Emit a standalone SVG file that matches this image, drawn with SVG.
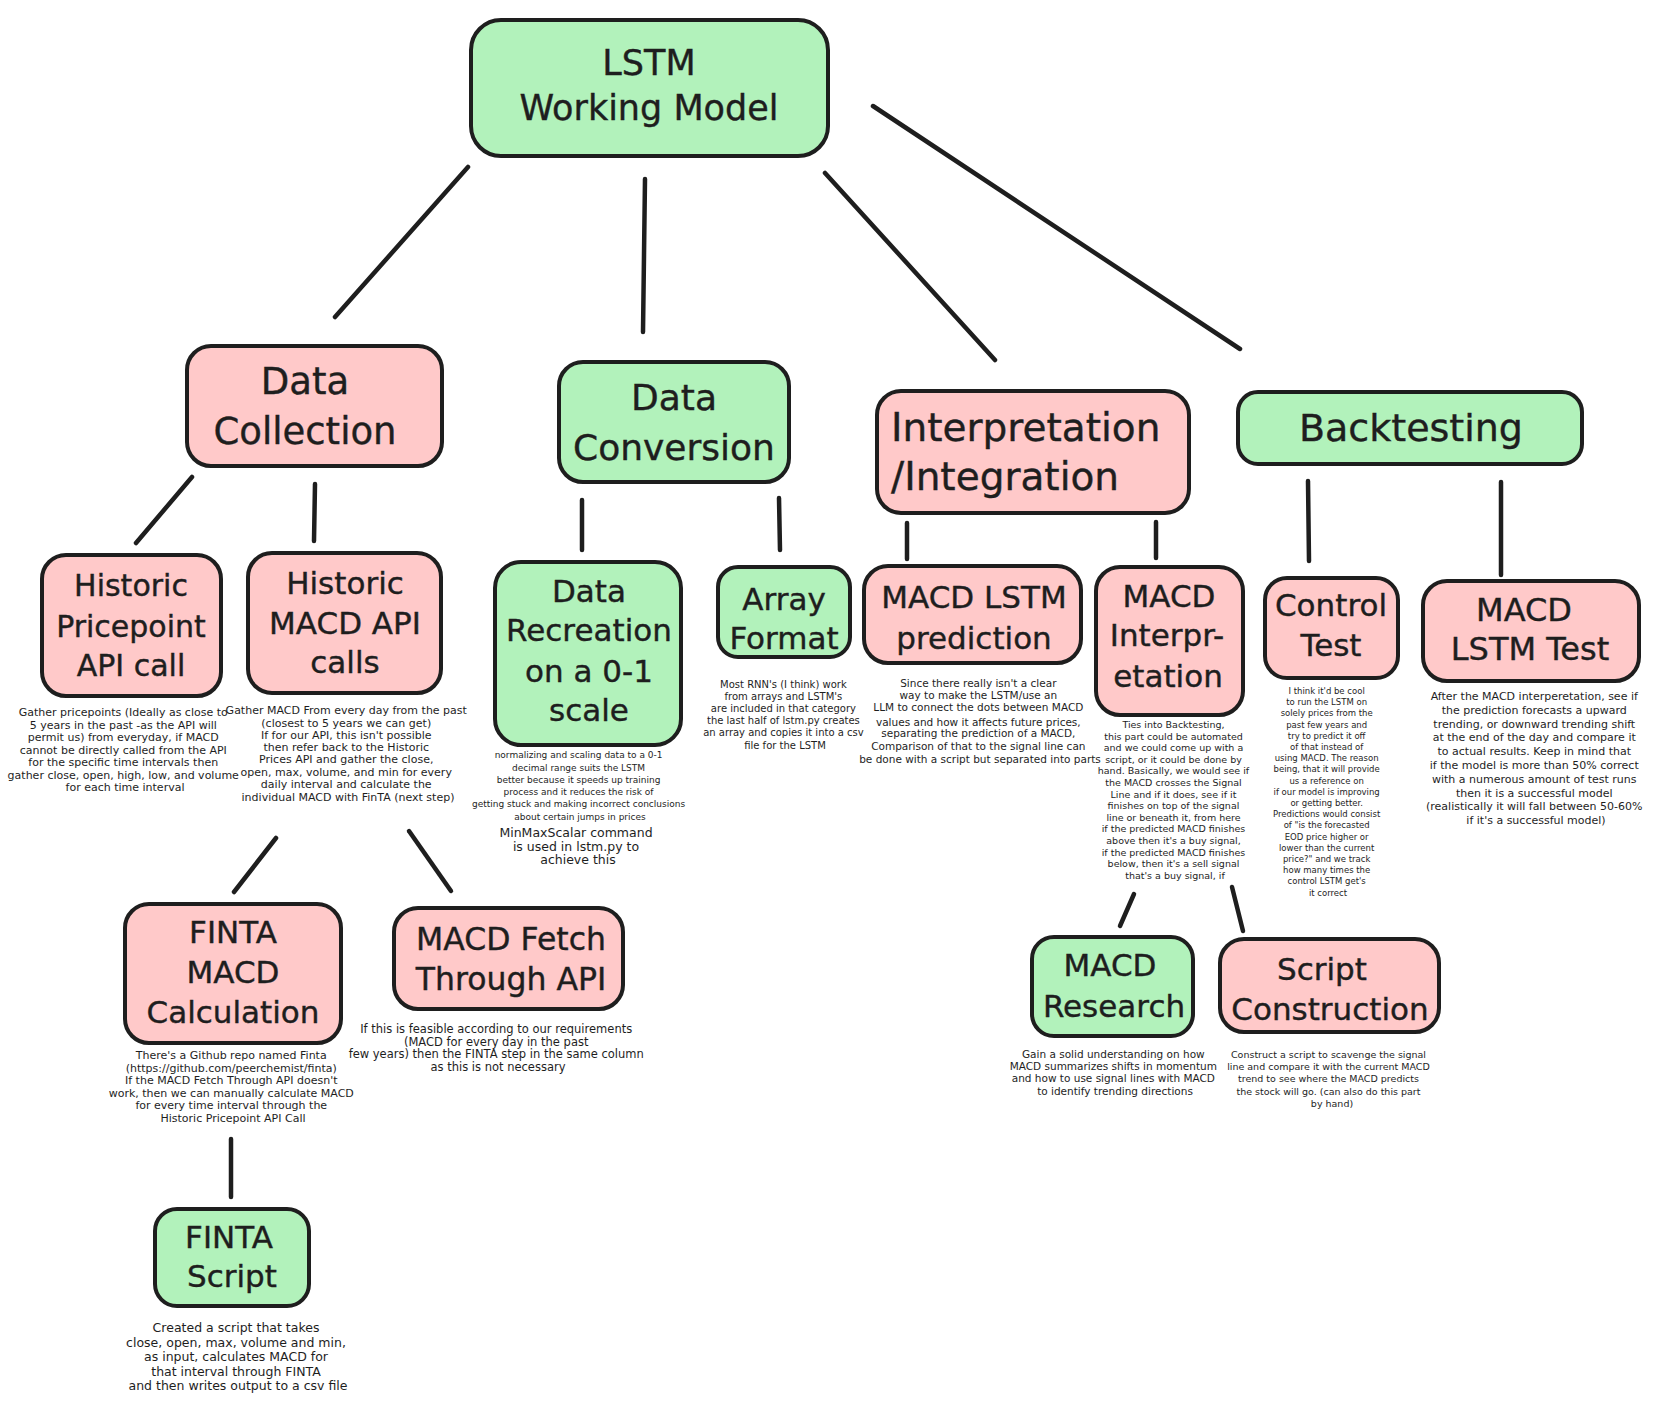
<svg xmlns="http://www.w3.org/2000/svg" width="1669" height="1420" viewBox="0 0 1669 1420">
  <style>
    .box { stroke: #1e1e1e; stroke-width: 4; stroke-linejoin: round; }
    .green { fill: #b2f2bb; }
    .pink { fill: #ffc9c9; }
    .title { font-family: "DejaVu Sans", "Liberation Sans", sans-serif; fill: #1e1e1e; text-anchor: middle; stroke: #1e1e1e; stroke-width: 0.4; }
    .note { font-family: "DejaVu Sans", "Liberation Sans", sans-serif; fill: #1e1e1e; text-anchor: middle; }
    .link { stroke: #1e1e1e; stroke-width: 4.5; stroke-linecap: round; fill: none; }
  </style>
  <rect width="1669" height="1420" fill="#ffffff"/>

  <!-- connectors -->
  <g id="connectors">
    <line class="link" x1="468" y1="167" x2="335" y2="317"/>
    <line class="link" x1="645" y1="179" x2="643" y2="332"/>
    <line class="link" x1="825" y1="173" x2="995" y2="360"/>
    <line class="link" x1="873" y1="106" x2="1240" y2="349"/>
    <line class="link" x1="192" y1="477" x2="136" y2="543"/>
    <line class="link" x1="315" y1="484" x2="314" y2="541"/>
    <line class="link" x1="582" y1="500" x2="582" y2="550"/>
    <line class="link" x1="779" y1="498" x2="780" y2="550"/>
    <line class="link" x1="907" y1="523" x2="907" y2="559"/>
    <line class="link" x1="1156" y1="522" x2="1156" y2="558"/>
    <line class="link" x1="1308" y1="481" x2="1309" y2="561"/>
    <line class="link" x1="1501" y1="482" x2="1501" y2="575"/>
    <line class="link" x1="276" y1="838" x2="234" y2="892"/>
    <line class="link" x1="409" y1="831" x2="451" y2="891"/>
    <line class="link" x1="1134" y1="894" x2="1120" y2="926"/>
    <line class="link" x1="1232" y1="887" x2="1243" y2="931"/>
    <line class="link" x1="231" y1="1139" x2="231" y2="1197"/>
  </g>

  <!-- root -->
  <g id="lstm-working-model">
    <rect class="box green" x="471" y="20" width="357" height="136" rx="30"/>
    <text class="title" font-size="35"><tspan x="649" y="75">LSTM</tspan><tspan x="649" y="120">Working Model</tspan></text>
  </g>

  <!-- first level -->
  <g id="data-collection">
    <rect class="box pink" x="187" y="346" width="255" height="120" rx="24"/>
    <text class="title" font-size="37"><tspan x="305" y="394">Data</tspan><tspan x="305" y="444">Collection</tspan></text>
  </g>
  <g id="data-conversion">
    <rect class="box green" x="559" y="362" width="230" height="120" rx="24"/>
    <text class="title" font-size="36"><tspan x="674" y="410">Data</tspan><tspan x="674" y="460">Conversion</tspan></text>
  </g>
  <g id="interpretation-integration">
    <rect class="box pink" x="877" y="391" width="312" height="122" rx="24"/>
    <text class="title" font-size="39" style="text-anchor:start"><tspan x="891" y="441">Interpretation</tspan><tspan x="891" y="490">/Integration</tspan></text>
  </g>
  <g id="backtesting">
    <rect class="box green" x="1238" y="392" width="344" height="72" rx="20"/>
    <text class="title" font-size="38"><tspan x="1411" y="441">Backtesting</tspan></text>
  </g>

  <!-- data collection branch -->
  <g id="historic-pricepoint">
    <rect class="box pink" x="42" y="555" width="179" height="141" rx="24"/>
    <text class="title" font-size="30"><tspan x="131" y="596">Historic</tspan><tspan x="131" y="637">Pricepoint</tspan><tspan x="131" y="676">API call</tspan></text>
    <text class="note" font-size="11">
      <tspan x="125" y="716">Gather pricepoints (Ideally as close to</tspan>
      <tspan x="125" y="728.5">5 years in the past -as the API will</tspan>
      <tspan x="125" y="741">permit us) from everyday, if MACD</tspan>
      <tspan x="125" y="753.5">cannot be directly called from the API</tspan>
      <tspan x="125" y="766">for the specific time intervals then</tspan>
      <tspan x="125" y="778.5">gather close, open, high, low, and volume</tspan>
      <tspan x="125" y="791">for each time interval</tspan>
    </text>
  </g>
  <g id="historic-macd">
    <rect class="box pink" x="248" y="553" width="193" height="140" rx="24"/>
    <text class="title" font-size="31"><tspan x="345" y="594">Historic</tspan><tspan x="345" y="634">MACD API</tspan><tspan x="345" y="673">calls</tspan></text>
    <text class="note" font-size="11">
      <tspan x="348" y="714">Gather MACD From every day from the past</tspan>
      <tspan x="348" y="726.5">(closest to 5 years we can get)</tspan>
      <tspan x="348" y="739">If for our API, this isn't possible</tspan>
      <tspan x="348" y="751">then refer back to the Historic</tspan>
      <tspan x="348" y="763">Prices API and gather the close,</tspan>
      <tspan x="348" y="775.5">open, max, volume, and min for every</tspan>
      <tspan x="348" y="788">daily interval and calculate the</tspan>
      <tspan x="348" y="800.5">individual MACD with FinTA (next step)</tspan>
    </text>
  </g>
  <g id="finta-macd-calculation">
    <rect class="box pink" x="125" y="904" width="216" height="139" rx="24"/>
    <text class="title" font-size="31"><tspan x="233" y="943">FINTA</tspan><tspan x="233" y="983">MACD</tspan><tspan x="233" y="1023">Calculation</tspan></text>
    <text class="note" font-size="11">
      <tspan x="233" y="1059">There's a Github repo named Finta</tspan>
      <tspan x="233" y="1071.5">(https://github.com/peerchemist/finta)</tspan>
      <tspan x="233" y="1084">If the MACD Fetch Through API doesn't</tspan>
      <tspan x="233" y="1096.5">work, then we can manually calculate MACD</tspan>
      <tspan x="233" y="1109">for every time interval through the</tspan>
      <tspan x="233" y="1121.5">Historic Pricepoint API Call</tspan>
    </text>
  </g>
  <g id="macd-fetch">
    <rect class="box pink" x="394" y="908" width="229" height="101" rx="24"/>
    <text class="title" font-size="31.5"><tspan x="511" y="950">MACD Fetch</tspan><tspan x="511" y="990">Through API</tspan></text>
    <text class="note" font-size="11.5">
      <tspan x="498" y="1033">If this is feasible according to our requirements</tspan>
      <tspan x="498" y="1046">(MACD for every day in the past</tspan>
      <tspan x="498" y="1058">few years) then the FINTA step in the same column</tspan>
      <tspan x="498" y="1071">as this is not necessary</tspan>
    </text>
  </g>
  <g id="finta-script">
    <rect class="box green" x="155" y="1209" width="154" height="97" rx="22"/>
    <text class="title" font-size="31"><tspan x="229" y="1248">FINTA</tspan><tspan x="232" y="1287">Script</tspan></text>
    <text class="note" font-size="12.5">
      <tspan x="238" y="1332">Created a script that takes</tspan>
      <tspan x="238" y="1346.5">close, open, max, volume and min,</tspan>
      <tspan x="238" y="1361">as input, calculates MACD for</tspan>
      <tspan x="238" y="1375.5">that interval through FINTA</tspan>
      <tspan x="238" y="1390">and then writes output to a csv file</tspan>
    </text>
  </g>

  <!-- data conversion branch -->
  <g id="data-recreation">
    <rect class="box green" x="495" y="562" width="186" height="183" rx="26"/>
    <text class="title" font-size="31"><tspan x="589" y="602">Data</tspan><tspan x="589" y="641">Recreation</tspan><tspan x="589" y="682">on a 0-1</tspan><tspan x="589" y="721">scale</tspan></text>
    <text class="note" font-size="9">
      <tspan x="580" y="758">normalizing and scaling data to a 0-1</tspan>
      <tspan x="580" y="770.5">decimal range suits the LSTM</tspan>
      <tspan x="580" y="783">better because it speeds up training</tspan>
      <tspan x="580" y="795">process and it reduces the risk of</tspan>
      <tspan x="580" y="807">getting stuck and making incorrect conclusions</tspan>
      <tspan x="580" y="820">about certain jumps in prices</tspan>
    </text>
    <text class="note" font-size="12.5">
      <tspan x="578" y="837">MinMaxScalar command</tspan>
      <tspan x="578" y="851">is used in lstm.py to</tspan>
      <tspan x="578" y="864">achieve this</tspan>
    </text>
  </g>
  <g id="array-format">
    <rect class="box green" x="718" y="567" width="132" height="90" rx="20"/>
    <text class="title" font-size="31"><tspan x="784" y="610">Array</tspan><tspan x="784" y="649">Format</tspan></text>
    <text class="note" font-size="10">
      <tspan x="785" y="687.5">Most RNN's (I think) work</tspan>
      <tspan x="785" y="699.5">from arrays and LSTM's</tspan>
      <tspan x="785" y="711.5">are included in that category</tspan>
      <tspan x="785" y="724">the last half of lstm.py creates</tspan>
      <tspan x="785" y="736">an array and copies it into a csv</tspan>
      <tspan x="785" y="748.5">file for the LSTM</tspan>
    </text>
  </g>

  <!-- interpretation branch -->
  <g id="macd-lstm-prediction">
    <rect class="box pink" x="864" y="566" width="217" height="97" rx="24"/>
    <text class="title" font-size="31"><tspan x="974" y="608">MACD LSTM</tspan><tspan x="974" y="649">prediction</tspan></text>
    <text class="note" font-size="10.5">
      <tspan x="980" y="686.5">Since there really isn't a clear</tspan>
      <tspan x="980" y="699">way to make the LSTM/use an</tspan>
      <tspan x="980" y="711">LLM to connect the dots between MACD</tspan>
      <tspan x="980" y="725.5">values and how it affects future prices,</tspan>
      <tspan x="980" y="737">separating the prediction of a MACD,</tspan>
      <tspan x="980" y="750">Comparison of that to the signal line can</tspan>
      <tspan x="980" y="763">be done with a script but separated into parts</tspan>
    </text>
  </g>
  <g id="macd-interpretation">
    <rect class="box pink" x="1096" y="567" width="147" height="148" rx="24"/>
    <text class="title" font-size="31"><tspan x="1169" y="607">MACD</tspan><tspan x="1167" y="646">Interpr-</tspan><tspan x="1168" y="687">etation</tspan></text>
    <text class="note" font-size="9.5">
      <tspan x="1175" y="728">Ties into Backtesting,</tspan>
      <tspan x="1175" y="739.6">this part could be automated</tspan>
      <tspan x="1175" y="751.2">and we could come up with a</tspan>
      <tspan x="1175" y="762.8">script, or it could be done by</tspan>
      <tspan x="1175" y="774.4">hand. Basically, we would see if</tspan>
      <tspan x="1175" y="786">the MACD crosses the Signal</tspan>
      <tspan x="1175" y="797.6">Line and if it does, see if it</tspan>
      <tspan x="1175" y="809.2">finishes on top of the signal</tspan>
      <tspan x="1175" y="820.8">line or beneath it, from here</tspan>
      <tspan x="1175" y="832.4">if the predicted MACD finishes</tspan>
      <tspan x="1175" y="844">above then it's a buy signal,</tspan>
      <tspan x="1175" y="855.6">if the predicted MACD finishes</tspan>
      <tspan x="1175" y="867.2">below, then it's a sell signal</tspan>
      <tspan x="1175" y="878.8">that's a buy signal, if</tspan>
    </text>
  </g>
  <g id="macd-research">
    <rect class="box green" x="1032" y="937" width="161" height="99" rx="22"/>
    <text class="title" font-size="31"><tspan x="1110" y="976">MACD</tspan><tspan x="1114" y="1017">Research</tspan></text>
    <text class="note" font-size="10.5">
      <tspan x="1115" y="1058">Gain a solid understanding on how</tspan>
      <tspan x="1115" y="1070">MACD summarizes shifts in momentum</tspan>
      <tspan x="1115" y="1082">and how to use signal lines with MACD</tspan>
      <tspan x="1115" y="1095">to identify trending directions</tspan>
    </text>
  </g>
  <g id="script-construction">
    <rect class="box pink" x="1220" y="939" width="219" height="93" rx="24"/>
    <text class="title" font-size="31"><tspan x="1322" y="980">Script</tspan><tspan x="1330" y="1020">Construction</tspan></text>
    <text class="note" font-size="9.5">
      <tspan x="1330" y="1058">Construct a script to scavenge the signal</tspan>
      <tspan x="1330" y="1070">line and compare it with the current MACD</tspan>
      <tspan x="1330" y="1082">trend to see where the MACD predicts</tspan>
      <tspan x="1330" y="1095">the stock will go. (can also do this part</tspan>
      <tspan x="1332" y="1107">by hand)</tspan>
    </text>
  </g>

  <!-- backtesting branch -->
  <g id="control-test">
    <rect class="box pink" x="1265" y="578" width="133" height="100" rx="22"/>
    <text class="title" font-size="31"><tspan x="1331" y="616">Control</tspan><tspan x="1331" y="656">Test</tspan></text>
    <text class="note" font-size="8.5">
      <tspan x="1328" y="694">I think it'd be cool</tspan>
      <tspan x="1328" y="705.2">to run the LSTM on</tspan>
      <tspan x="1328" y="716.4">solely prices from the</tspan>
      <tspan x="1328" y="727.6">past few years and</tspan>
      <tspan x="1328" y="738.8">try to predict it off</tspan>
      <tspan x="1328" y="750">of that instead of</tspan>
      <tspan x="1328" y="761.2">using MACD. The reason</tspan>
      <tspan x="1328" y="772.4">being, that it will provide</tspan>
      <tspan x="1328" y="783.6">us a reference on</tspan>
      <tspan x="1328" y="794.8">if our model is improving</tspan>
      <tspan x="1328" y="806">or getting better.</tspan>
      <tspan x="1328" y="817.2">Predictions would consist</tspan>
      <tspan x="1328" y="828.4">of "is the forecasted</tspan>
      <tspan x="1328" y="839.6">EOD price higher or</tspan>
      <tspan x="1328" y="850.8">lower than the current</tspan>
      <tspan x="1328" y="862">price?" and we track</tspan>
      <tspan x="1328" y="873.2">how many times the</tspan>
      <tspan x="1328" y="884.4">control LSTM get's</tspan>
      <tspan x="1328" y="895.6">it correct</tspan>
    </text>
  </g>
  <g id="macd-lstm-test">
    <rect class="box pink" x="1423" y="581" width="216" height="100" rx="24"/>
    <text class="title" font-size="32"><tspan x="1524" y="621">MACD</tspan><tspan x="1530" y="660">LSTM Test</tspan></text>
    <text class="note" font-size="11">
      <tspan x="1536" y="700">After the MACD interperetation, see if</tspan>
      <tspan x="1536" y="713.8">the prediction forecasts a upward</tspan>
      <tspan x="1536" y="727.6">trending, or downward trending shift</tspan>
      <tspan x="1536" y="741.4">at the end of the day and compare it</tspan>
      <tspan x="1536" y="755.2">to actual results. Keep in mind that</tspan>
      <tspan x="1536" y="769">if the model is more than 50% correct</tspan>
      <tspan x="1536" y="782.8">with a numerous amount of test runs</tspan>
      <tspan x="1536" y="796.6">then it is a successful model</tspan>
      <tspan x="1536" y="810.4">(realistically it will fall between 50-60%</tspan>
      <tspan x="1536" y="824.2">if it's a successful model)</tspan>
    </text>
  </g>
</svg>
